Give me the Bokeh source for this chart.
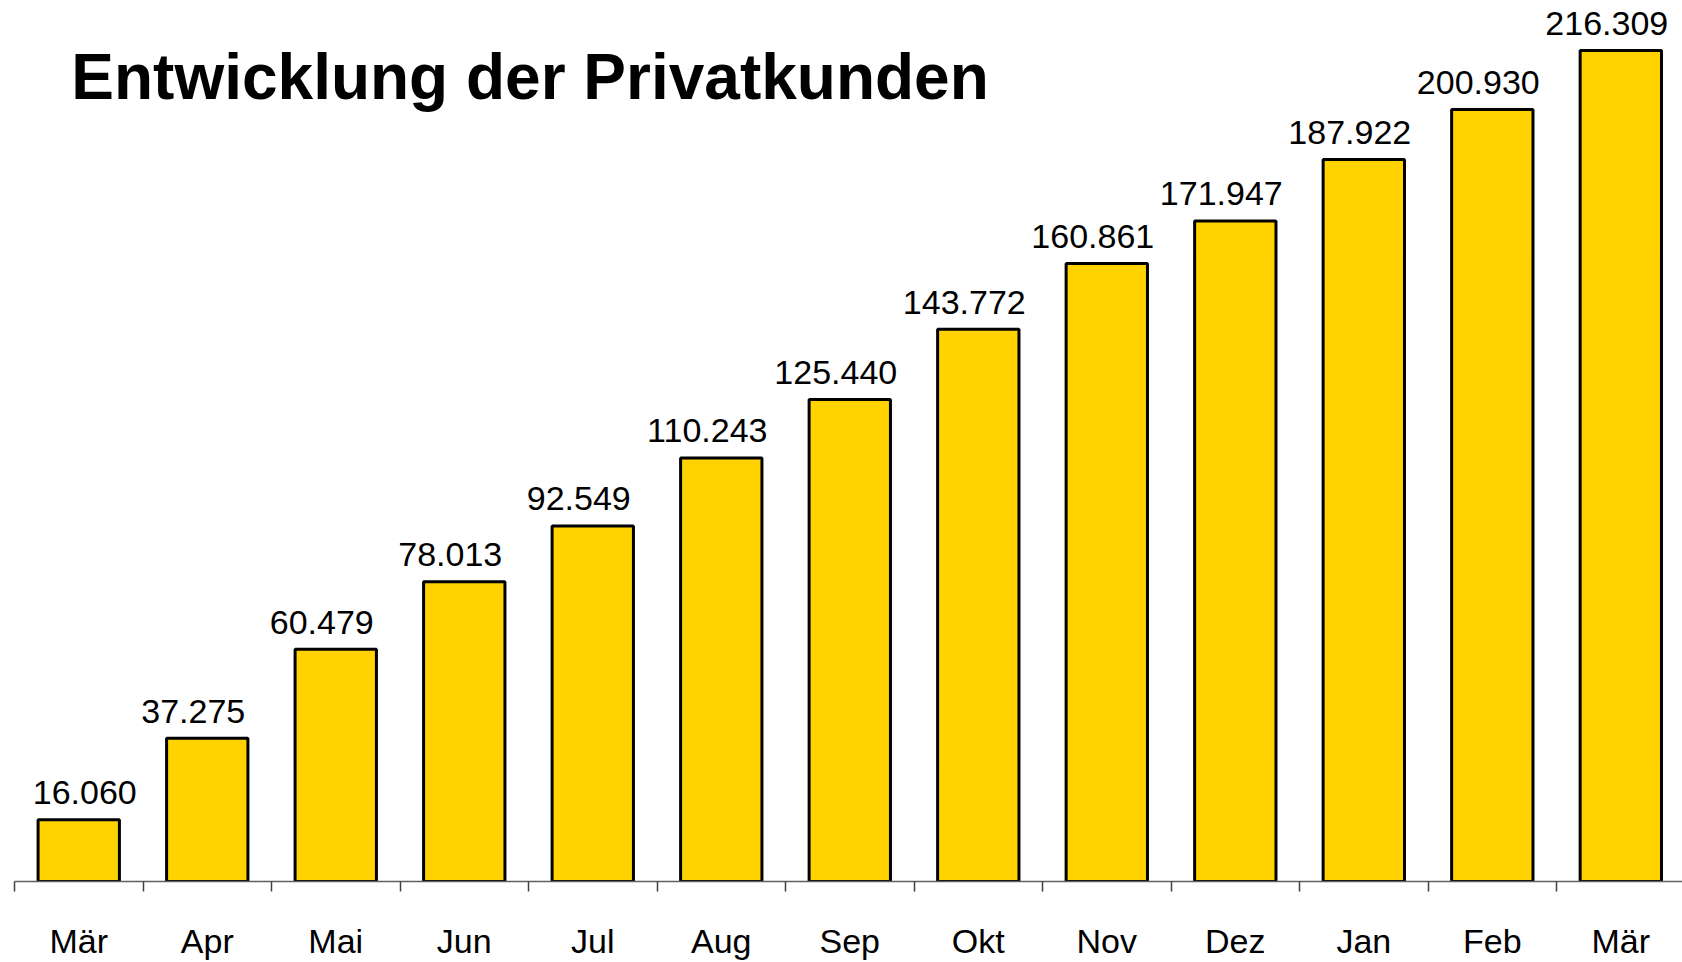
from bokeh.plotting import figure
from bokeh.models import ColumnDataSource, Range1d, FixedTicker, CustomJSTickFormatter, Label
from bokeh.core.properties import value
from bokeh.embed import file_html
from bokeh.resources import INLINE

# ---- data ----
title_text = "Entwicklung der Privatkunden"
months = ["Mär", "Apr", "Mai", "Jun", "Jul", "Aug", "Sep", "Okt", "Nov", "Dez", "Jan", "Feb", "Mär"]
customers = [16060, 37275, 60479, 78013, 92549, 110243, 125440, 143772, 160861, 171947, 187922, 200930, 216309]

n = len(months)
xs = [i + 0.5 for i in range(n)]
value_labels = [f"{v:,}".replace(",", ".") for v in customers]
# Excel-like label placement: slightly left of bar centre, first one pushed inside the plot
label_dx = [6] + [-14] * (n - 1)

src = ColumnDataSource(dict(x=xs, top=customers, lab=value_labels, dx=label_dx))

p = figure(width=1682, height=962, output_backend="svg", toolbar_location=None,
           x_range=Range1d(0, 12.98), y_range=Range1d(0, 229323),
           y_axis_location=None, min_border_left=14, min_border_right=0,
           min_border_top=0, min_border_bottom=81)
p.outline_line_color = None
p.xgrid.visible = False
p.ygrid.visible = False
p.background_fill_color = "white"
p.border_fill_color = "white"

p.vbar(x="x", top="top", width=0.633, bottom=0, source=src,
       fill_color="#FFD200", line_color="black", line_width=3)

p.text(x="x", y="top", text="lab", source=src, x_offset="dx", y_offset=-27,
       text_align="center", text_baseline="alphabetic",
       text_font=value("Liberation Sans"), text_font_size="34px", text_color="black")

ax = p.xaxis[0]
ax.ticker = FixedTicker(ticks=xs, minor_ticks=list(range(n + 1)))
ax.formatter = CustomJSTickFormatter(args=dict(labels=months),
                                     code="return labels[Math.round(tick - 0.5)];")
ax.axis_line_color = "#606060"
ax.axis_line_width = 1.5
ax.major_tick_in = 0
ax.major_tick_out = 0
ax.minor_tick_in = 0
ax.minor_tick_out = 10
ax.minor_tick_line_color = "#404040"
ax.minor_tick_line_width = 1.5
ax.major_label_text_font = "Liberation Sans"
ax.major_label_text_font_size = "34px"
ax.major_label_text_color = "black"
ax.major_label_standoff = 30

p.add_layout(Label(x=0.442, y=209330, text=title_text, text_align="left",
                   text_baseline="alphabetic", text_font="Liberation Sans",
                   text_font_style="bold", text_font_size="64px", text_color="black"))

open("out.html", "w").write(file_html(p, INLINE))
